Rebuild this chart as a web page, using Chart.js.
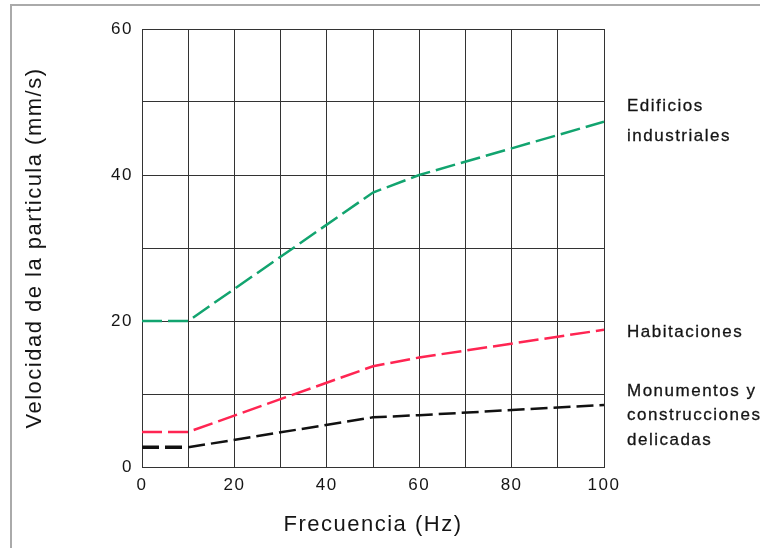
<!DOCTYPE html>
<html>
<head>
<meta charset="utf-8">
<script src="https://cdn.jsdelivr.net/npm/chart.js@4/dist/chart.umd.min.js"></script>
<style>
  html, body { margin: 0; padding: 0; background: #fff; }
  #wrap { position: relative; width: 760px; height: 548px; overflow: hidden; }
  #frame { position: absolute; left: 10px; top: 4px; width: 900px; height: 700px; border: 2px solid #aaaaaa; }
  #chart { position: absolute; left: 0; top: 0; }
</style>
</head>
<body>
<div id="wrap">
  <div id="frame"></div>
  <canvas id="chart" width="760" height="548"></canvas>
</div>
<script>
// frecuencia (Hz) y velocidad de la partícula (mm/s) para cada tipo de estructura
const frecuencias = [0, 10, 50, 60, 100];
const industriales = [20, 20, 37.6, 40, 47.3];
const habitaciones = [4.8, 4.8, 13.8, 15, 18.8];
const monumentos = [2.7, 2.7, 6.8, 7.1, 8.5];

const xTicks = [0, 20, 40, 60, 80, 100];
const yTicks = [0, 20, 40, 60];

const etiquetas = [
  ['Edificios', 'industriales'],
  ['Habitaciones'],
  ['Monumentos y', 'construcciones', 'delicadas']
];

const FONT = "'Liberation Sans', Arial, sans-serif";
const TXT = '#151515';

function pts(ys) {
  return frecuencias.map((f, i) => ({ x: f, y: ys[i] }));
}

// espaciado de letras para todo el texto del canvas
const spacing = {
  id: 'spacing',
  beforeLayout(chart) { chart.ctx.letterSpacing = '1.5px'; },
  beforeDraw(chart) { chart.ctx.letterSpacing = '1.5px'; }
};

// rótulos a la derecha de cada curva
const rotulos = {
  id: 'rotulos',
  afterDraw(chart) {
    const ctx = chart.ctx;
    const a = chart.chartArea;
    const baselines = [[82, 112], [308], [367, 391, 416]];
    ctx.save();
    ctx.letterSpacing = '1.5px';
    ctx.font = '17px ' + FONT;
    ctx.fillStyle = TXT;
    ctx.strokeStyle = TXT;
    ctx.lineWidth = 0.3;
    ctx.textBaseline = 'alphabetic';
    ctx.textAlign = 'left';
    etiquetas.forEach((lines, i) => {
      lines.forEach((t, j) => {
        const x = a.right + 23, y = a.top + baselines[i][j];
        ctx.fillText(t, x, y);
        ctx.strokeText(t, x, y);
      });
    });
    ctx.restore();
  }
};

const gridColor = '#333333';

new Chart(document.getElementById('chart'), {
  type: 'line',
  data: {
    datasets: [
      {
        label: etiquetas[0].join(' '),
        data: pts(industriales),
        borderColor: '#12a46f',
        borderWidth: 2.5,
        borderDash: [20, 6]
      },
      {
        label: etiquetas[1].join(' '),
        data: pts(habitaciones),
        borderColor: '#ff2552',
        borderWidth: 2.5,
        borderDash: [20, 6]
      },
      {
        label: etiquetas[2].join(' '),
        data: pts(monumentos),
        borderColor: '#111111',
        borderWidth: 2.5,
        borderDash: [17, 6],
        segment: { borderWidth: c => c.p0DataIndex === 0 ? 3.5 : 2.5 }
      }
    ]
  },
  options: {
    responsive: false,
    animation: false,
    events: [],
    elements: { point: { radius: 0 }, line: { tension: 0, borderCapStyle: 'butt' } },
    layout: { padding: { left: 0, right: 156, top: 29, bottom: 0 } },
    plugins: { legend: { display: false }, tooltip: { enabled: false } },
    scales: {
      x: {
        type: 'linear',
        min: 0,
        max: 100,
        afterFit(s) { s.height = 81; },
        grid: { color: gridColor, lineWidth: 1, drawTicks: false },
        border: { color: gridColor, width: 1 },
        ticks: {
          stepSize: 10,
          padding: 8,
          color: TXT,
          font: { family: FONT, size: 17 },
          callback: v => xTicks.includes(v) ? String(v) : ''
        },
        title: {
          display: true,
          text: 'Frecuencia (Hz)',
          color: TXT,
          font: { family: FONT, size: 22 },
          padding: { top: 0, bottom: 10 }
        }
      },
      y: {
        min: 0,
        max: 60,
        afterFit(s) { s.width = 142; },
        grid: { color: gridColor, lineWidth: 1, drawTicks: false },
        border: { color: gridColor, width: 1 },
        ticks: {
          stepSize: 10,
          padding: 9,
          color: TXT,
          font: { family: FONT, size: 17 },
          callback: v => yTicks.includes(v) ? String(v) : ''
        },
        title: {
          display: true,
          text: 'Velocidad de la particula (mm/s)',
          color: TXT,
          font: { family: FONT, size: 22 },
          padding: { top: 22, bottom: 0 }
        }
      }
    }
  },
  plugins: [spacing, rotulos]
});
</script>
</body>
</html>
